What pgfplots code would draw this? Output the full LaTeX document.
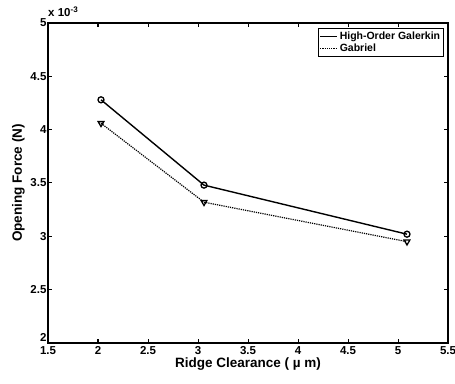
\documentclass[border=0pt]{standalone}
\usepackage{pgfplots}
\pgfplotsset{compat=1.18}
\usepackage{fontspec}
\setmainfont{Liberation Sans}
\begin{document}
\begin{tikzpicture}[x=1pt,y=1pt]
\path[use as bounding box] (-48,-40) rectangle (407,343);
\begin{axis}[
  name=ax,
  at={(0,0)}, anchor=south west,
  scale only axis, width=400pt, height=320pt,
  xmin=1.5, xmax=5.5, ymin=2, ymax=5,
  xtick={1.5,2,...,5.5}, ytick={2,2.5,...,5},
  xticklabels={\textbf{1.5},\textbf{2},\textbf{2.5},\textbf{3},\textbf{3.5},\textbf{4},\textbf{4.5},\textbf{5},\textbf{5.5}},
  yticklabels={\raisebox{2pt}[0pt][0pt]{\textbf{2}},\textbf{2.5},\textbf{3},\textbf{3.5},\textbf{4},\textbf{4.5},\textbf{5}},
  tick align=inside, tick pos=both,
  major tick length=4pt,
  axis line style={line width=1.3pt},
  every tick/.style={black, line width=1pt},
  /pgf/number format/assume math mode=true,
  ticklabel style={font=\bfseries\fontsize{11.5}{13}\selectfont},
  xticklabel style={yshift=0pt},
  yticklabel style={xshift=2pt},
  xlabel={\textbf{Ridge Clearance ( µ m)}},
  ylabel={\textbf{Opening Force (N)}},
  label style={font=\bfseries\fontsize{13.5}{15}\selectfont},
  xlabel style={yshift=4pt},
  ylabel style={yshift=-1pt},
  legend style={at={(0.99,0.985)}, anchor=north east, draw=black, line width=0.8pt,
    font=\bfseries\fontsize{10.5}{12}\selectfont, inner sep=1.5pt, row sep=-1pt,
    legend cell align=left},
  legend image code/.code={\draw[#1, line width=1.1pt] (0pt,0pt) -- (17pt,0pt);},
]
\addplot[black, line width=1.4pt, mark=o, mark size=3pt, mark options={solid, line width=1.3pt}]
  coordinates {(2.03,4.28) (3.06,3.48) (5.09,3.02)};
\addlegendentry{\textbf{High-Order Galerkin}}
\addplot[black, line width=1.2pt, densely dotted, mark=triangle, mark size=3.3pt, mark options={solid, rotate=180, line width=1.3pt}]
  coordinates {(2.03,4.06) (3.06,3.32) (5.09,2.95)};
\addlegendentry{\textbf{Gabriel}}
\end{axis}
\node[anchor=base west, font=\bfseries\fontsize{11.5}{12}\selectfont, inner sep=0pt] at ([yshift=6pt]ax.north west) {\textbf{x 10\textsuperscript{-3}}};
\end{tikzpicture}
\end{document}
